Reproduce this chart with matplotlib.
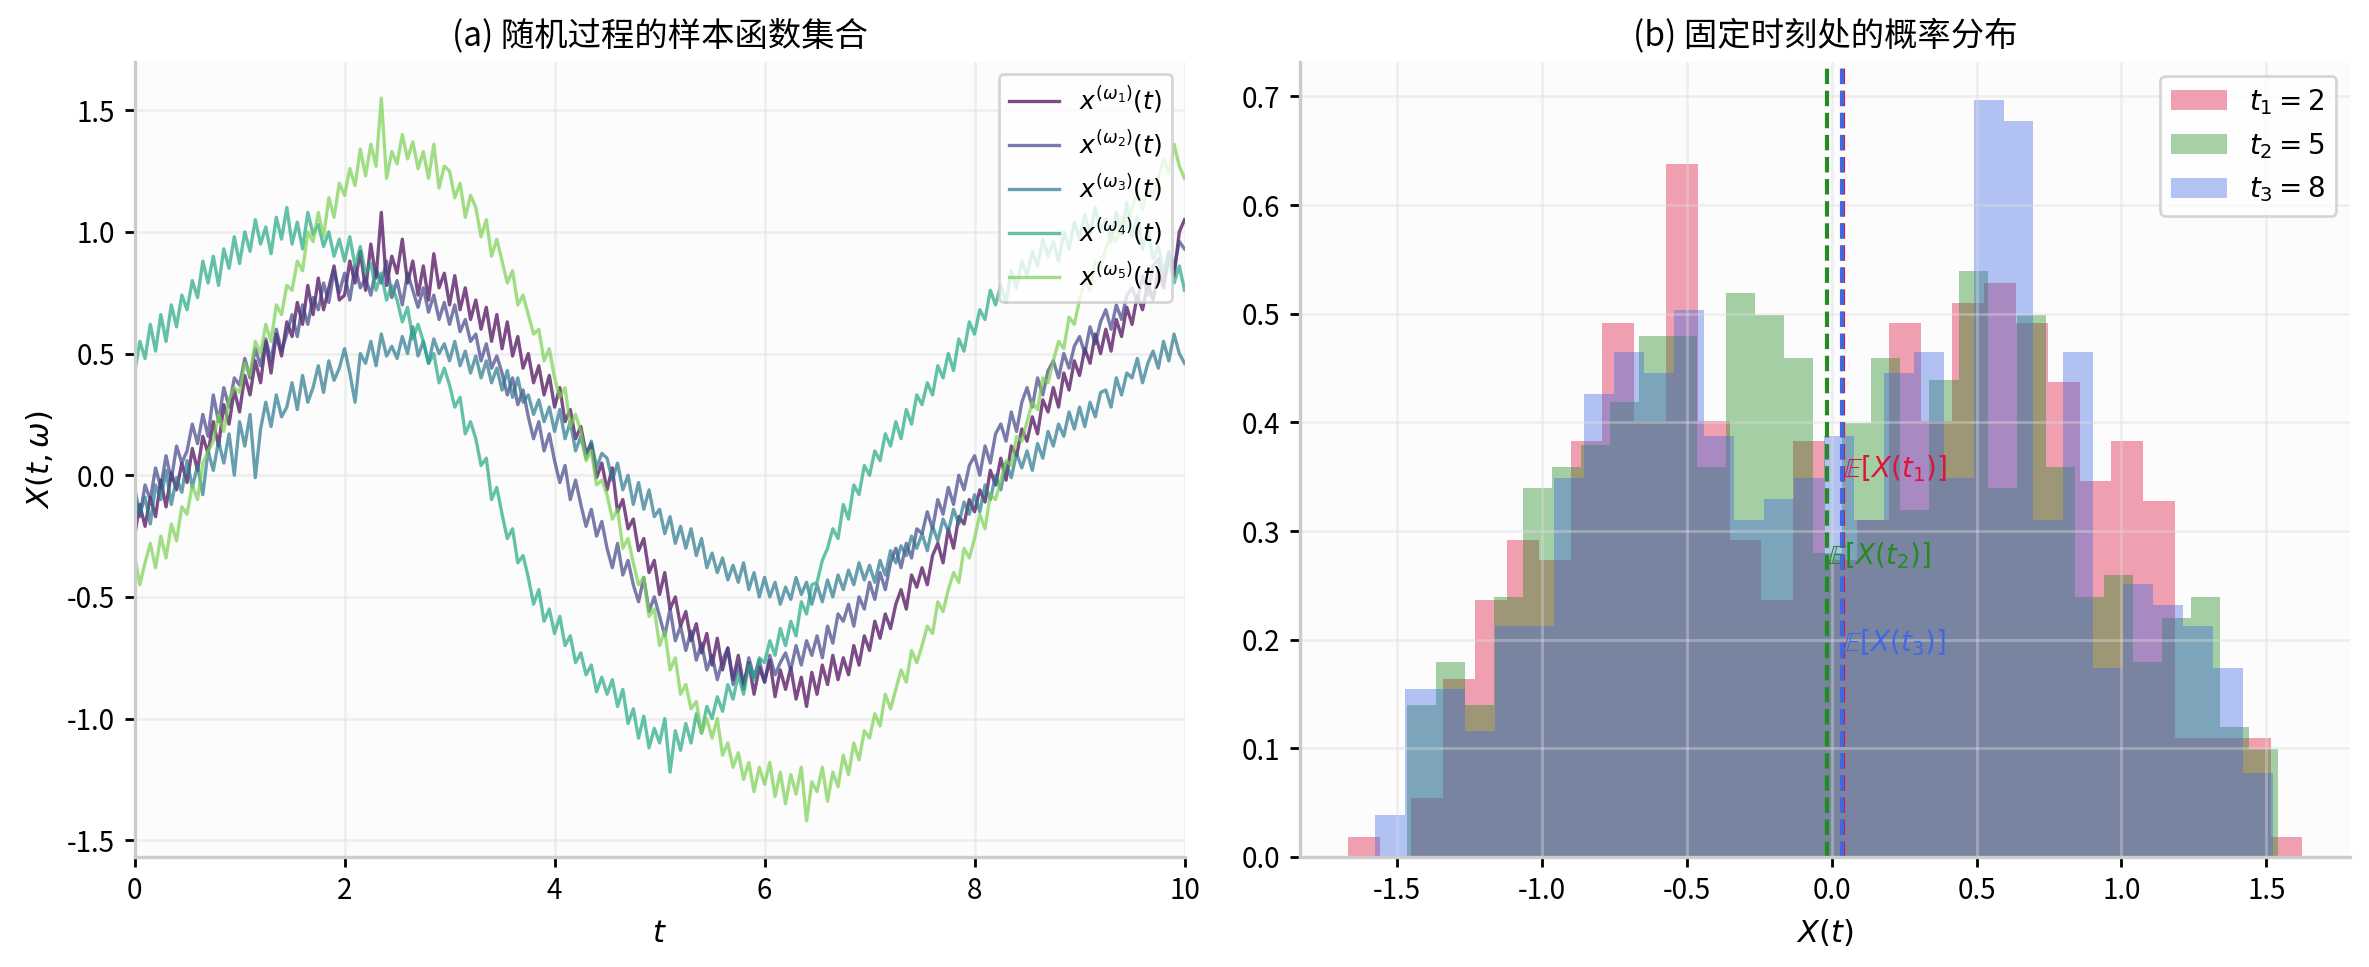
import numpy as np
import matplotlib
matplotlib.use('Agg')
import matplotlib.pyplot as plt

plt.rcParams['font.family'] = ['Noto Sans CJK SC', 'DejaVu Sans']
plt.rcParams['axes.unicode_minus'] = False
plt.rcParams['mathtext.fontset'] = 'dejavusans'
plt.rcParams['font.size'] = 10

path_labels = [r'$x^{(\omega_1)}(t)$', r'$x^{(\omega_2)}(t)$', r'$x^{(\omega_3)}(t)$',
               r'$x^{(\omega_4)}(t)$', r'$x^{(\omega_5)}(t)$']

x_w1 = [-0.25, -0.12, -0.21, -0.09, -0.17, -0.02, -0.13, 0.01, -0.06, 0.05,
        -0.03, 0.11, 0.02, 0.16, 0.09, 0.22, 0.12, 0.29, 0.21, 0.35,
        0.26, 0.41, 0.33, 0.47, 0.38, 0.55, 0.42, 0.58, 0.49, 0.63,
        0.57, 0.71, 0.62, 0.78, 0.66, 0.81, 0.68, 0.77, 0.86, 0.72,
        0.74, 0.88, 0.79, 0.92, 0.76, 0.95, 0.81, 1.08, 0.78, 0.90,
        0.83, 0.97, 0.79, 0.88, 0.74, 0.86, 0.72, 0.91, 0.77, 0.83,
        0.70, 0.82, 0.68, 0.77, 0.64, 0.72, 0.60, 0.69, 0.55, 0.66,
        0.52, 0.63, 0.49, 0.57, 0.44, 0.50, 0.38, 0.45, 0.33, 0.41,
        0.28, 0.36, 0.22, 0.27, 0.15, 0.20, 0.09, 0.13, -0.01, 0.05,
        -0.06, 0.03, -0.15, -0.10, -0.22, -0.18, -0.31, -0.26, -0.40, -0.35,
        -0.49, -0.40, -0.55, -0.50, -0.62, -0.56, -0.68, -0.61, -0.73, -0.65,
        -0.78, -0.67, -0.80, -0.71, -0.84, -0.74, -0.86, -0.77, -0.90, -0.79,
        -0.85, -0.76, -0.91, -0.80, -0.88, -0.79, -0.92, -0.83, -0.95, -0.81,
        -0.90, -0.78, -0.86, -0.74, -0.84, -0.75, -0.82, -0.70, -0.78, -0.66,
        -0.72, -0.60, -0.67, -0.57, -0.63, -0.53, -0.47, -0.55, -0.41, -0.46,
        -0.38, -0.45, -0.33, -0.28, -0.36, -0.22, -0.30, -0.17, -0.20, -0.10,
        -0.15, -0.06, -0.11, 0.02, -0.04, 0.07, -0.02, 0.12, 0.08, 0.19,
        0.14, 0.24, 0.17, 0.31, 0.26, 0.36, 0.28, 0.42, 0.35, 0.47,
        0.41, 0.52, 0.46, 0.58, 0.50, 0.60, 0.51, 0.64, 0.57, 0.69,
        0.62, 0.74, 0.68, 0.79, 0.72, 0.84, 0.77, 0.90, 0.82, 1.00,
        1.05]

x_w2 = [-0.08, -0.17, -0.04, -0.10, 0.03, -0.05, 0.08, -0.02, 0.12, 0.05,
        0.10, 0.21, 0.13, 0.25, 0.16, 0.33, 0.22, 0.36, 0.28, 0.40,
        0.37, 0.48, 0.40, 0.52, 0.45, 0.56, 0.47, 0.60, 0.51, 0.58,
        0.66, 0.57, 0.70, 0.62, 0.73, 0.68, 0.79, 0.71, 0.84, 0.75,
        0.83, 0.72, 0.86, 0.77, 0.81, 0.74, 0.85, 0.79, 0.88, 0.73,
        0.80, 0.70, 0.83, 0.76, 0.69, 0.77, 0.67, 0.74, 0.64, 0.71,
        0.62, 0.70, 0.59, 0.64, 0.55, 0.58, 0.47, 0.54, 0.44, 0.49,
        0.42, 0.33, 0.40, 0.29, 0.35, 0.24, 0.15, 0.22, 0.10, 0.17,
        0.06, -0.03, 0.04, -0.10, -0.02, -0.12, -0.21, -0.14, -0.25, -0.19,
        -0.30, -0.38, -0.28, -0.41, -0.35, -0.45, -0.52, -0.42, -0.56, -0.50,
        -0.58, -0.66, -0.55, -0.68, -0.62, -0.72, -0.64, -0.76, -0.69, -0.80,
        -0.74, -0.84, -0.76, -0.71, -0.86, -0.78, -0.88, -0.75, -0.83, -0.76,
        -0.85, -0.74, -0.82, -0.77, -0.73, -0.80, -0.70, -0.78, -0.68, -0.74,
        -0.66, -0.75, -0.62, -0.69, -0.57, -0.60, -0.53, -0.62, -0.50, -0.55,
        -0.44, -0.51, -0.40, -0.47, -0.36, -0.30, -0.38, -0.28, -0.34, -0.22,
        -0.24, -0.15, -0.22, -0.10, -0.16, -0.05, -0.12, 0.00, -0.06, 0.04,
        0.08, 0.00, 0.12, 0.05, 0.17, 0.21, 0.14, 0.26, 0.18, 0.30,
        0.36, 0.28, 0.40, 0.33, 0.43, 0.47, 0.40, 0.50, 0.44, 0.53,
        0.57, 0.50, 0.61, 0.54, 0.63, 0.68, 0.60, 0.70, 0.64, 0.74,
        0.77, 0.71, 0.82, 0.74, 0.86, 0.89, 0.80, 0.92, 0.85, 0.96,
        0.93]

x_w3 = [-0.05, -0.16, -0.09, -0.20, -0.04, -0.10, 0.02, -0.12, -0.01, -0.07,
        0.06, -0.05, 0.04, -0.08, 0.10, 0.02, 0.14, 0.05, 0.17, 0.00,
        0.22, 0.12, 0.25, -0.01, 0.19, 0.30, 0.20, 0.33, 0.24, 0.28,
        0.38, 0.27, 0.41, 0.30, 0.36, 0.45, 0.34, 0.47, 0.39, 0.44,
        0.52, 0.42, 0.30, 0.50, 0.46, 0.55, 0.45, 0.58, 0.49, 0.53,
        0.48, 0.57, 0.50, 0.61, 0.49, 0.55, 0.46, 0.56, 0.50, 0.54,
        0.47, 0.55, 0.45, 0.51, 0.42, 0.49, 0.40, 0.47, 0.38, 0.44,
        0.35, 0.43, 0.32, 0.40, 0.30, 0.33, 0.25, 0.31, 0.22, 0.28,
        0.18, 0.27, 0.15, 0.22, 0.10, 0.16, 0.07, 0.14, 0.03, 0.09,
        0.07, -0.02, 0.05, -0.06, 0.00, -0.12, -0.03, -0.14, -0.06, -0.17,
        -0.14, -0.24, -0.17, -0.28, -0.21, -0.30, -0.22, -0.33, -0.26, -0.38,
        -0.32, -0.40, -0.34, -0.43, -0.37, -0.44, -0.36, -0.47, -0.40, -0.50,
        -0.42, -0.50, -0.44, -0.53, -0.46, -0.51, -0.42, -0.49, -0.44, -0.53,
        -0.45, -0.52, -0.43, -0.50, -0.41, -0.47, -0.39, -0.45, -0.36, -0.43,
        -0.37, -0.44, -0.35, -0.41, -0.31, -0.36, -0.29, -0.33, -0.25, -0.30,
        -0.24, -0.31, -0.21, -0.27, -0.18, -0.23, -0.14, -0.20, -0.11, -0.16,
        -0.08, -0.15, -0.04, -0.10, 0.00, -0.06, 0.05, -0.01, 0.09, 0.03,
        0.10, 0.02, 0.13, 0.07, 0.18, 0.12, 0.21, 0.16, 0.26, 0.19,
        0.28, 0.20, 0.30, 0.24, 0.34, 0.35, 0.28, 0.40, 0.33, 0.42,
        0.40, 0.48, 0.38, 0.46, 0.51, 0.44, 0.55, 0.47, 0.58, 0.50,
        0.46]

x_w4 = [0.42, 0.55, 0.48, 0.62, 0.51, 0.66, 0.55, 0.70, 0.61, 0.74,
        0.68, 0.80, 0.73, 0.88, 0.79, 0.90, 0.78, 0.93, 0.85, 0.98,
        0.87, 1.00, 0.92, 1.05, 0.95, 1.02, 0.91, 1.06, 0.97, 1.10,
        0.95, 1.04, 0.93, 1.08, 0.99, 1.03, 0.94, 1.00, 0.90, 0.97,
        0.88, 0.98, 0.86, 0.94, 0.83, 0.87, 0.76, 0.83, 0.72, 0.78,
        0.72, 0.63, 0.69, 0.56, 0.62, 0.55, 0.46, 0.50, 0.38, 0.44,
        0.37, 0.28, 0.32, 0.17, 0.22, 0.15, 0.04, 0.07, -0.10, -0.05,
        -0.16, -0.26, -0.22, -0.36, -0.33, -0.42, -0.53, -0.47, -0.60, -0.55,
        -0.65, -0.58, -0.70, -0.66, -0.77, -0.73, -0.82, -0.78, -0.89, -0.83,
        -0.90, -0.84, -0.95, -0.88, -1.02, -0.96, -1.08, -0.99, -1.12, -1.04,
        -1.10, -1.00, -1.22, -1.05, -1.13, -1.02, -1.10, -0.98, -1.06, -0.95,
        -1.00, -0.91, -0.97, -0.86, -0.92, -0.82, -0.90, -0.78, -0.84, -0.75,
        -0.77, -0.68, -0.74, -0.63, -0.70, -0.60, -0.66, -0.52, -0.57, -0.45,
        -0.44, -0.35, -0.30, -0.22, -0.26, -0.12, -0.18, -0.04, -0.08, 0.04,
        0.00, 0.10, 0.06, 0.17, 0.12, 0.22, 0.15, 0.27, 0.21, 0.33,
        0.29, 0.38, 0.33, 0.45, 0.40, 0.50, 0.43, 0.56, 0.51, 0.63,
        0.58, 0.68, 0.64, 0.76, 0.70, 0.78, 0.71, 0.84, 0.77, 0.88,
        0.82, 0.92, 0.86, 0.97, 0.90, 0.96, 0.88, 1.00, 0.93, 1.04,
        0.97, 1.07, 0.99, 1.10, 1.01, 1.05, 0.96, 1.08, 0.99, 1.12,
        0.98, 1.06, 0.93, 1.00, 0.89, 0.94, 0.84, 0.90, 0.79, 0.86,
        0.76]

x_w5 = [-0.33, -0.45, -0.36, -0.28, -0.38, -0.25, -0.34, -0.20, -0.27, -0.13,
        -0.16, -0.04, -0.10, 0.05, 0.10, 0.14, 0.25, 0.18, 0.31, 0.36,
        0.34, 0.46, 0.41, 0.55, 0.50, 0.62, 0.55, 0.70, 0.66, 0.78,
        0.76, 0.88, 0.84, 1.00, 0.96, 1.08, 0.98, 1.14, 1.06, 1.20,
        1.15, 1.26, 1.19, 1.34, 1.23, 1.36, 1.27, 1.55, 1.22, 1.33,
        1.28, 1.40, 1.30, 1.37, 1.26, 1.33, 1.22, 1.36, 1.18, 1.27,
        1.25, 1.14, 1.20, 1.06, 1.15, 1.10, 0.98, 1.05, 0.90, 0.97,
        0.88, 0.79, 0.84, 0.70, 0.74, 0.66, 0.58, 0.60, 0.47, 0.52,
        0.40, 0.32, 0.36, 0.20, 0.25, 0.18, 0.06, 0.10, -0.04, -0.02,
        -0.08, -0.18, -0.14, -0.30, -0.26, -0.36, -0.45, -0.42, -0.58, -0.55,
        -0.70, -0.64, -0.80, -0.75, -0.90, -0.86, -0.96, -0.93, -1.06, -1.00,
        -1.08, -1.00, -1.15, -1.10, -1.20, -1.14, -1.25, -1.18, -1.30, -1.20,
        -1.27, -1.18, -1.32, -1.22, -1.35, -1.23, -1.31, -1.20, -1.42, -1.26,
        -1.30, -1.20, -1.34, -1.22, -1.28, -1.15, -1.23, -1.10, -1.17, -1.05,
        -1.08, -0.98, -1.03, -0.90, -0.96, -0.88, -0.80, -0.85, -0.72, -0.77,
        -0.70, -0.62, -0.65, -0.52, -0.56, -0.47, -0.40, -0.44, -0.30, -0.34,
        -0.26, -0.16, -0.22, -0.08, -0.10, -0.02, 0.06, 0.04, 0.16, 0.14,
        0.22, 0.30, 0.27, 0.40, 0.38, 0.47, 0.55, 0.52, 0.65, 0.62,
        0.72, 0.80, 0.76, 0.88, 0.85, 0.93, 0.99, 0.96, 1.06, 1.02,
        1.10, 1.16, 1.09, 1.20, 1.14, 1.22, 1.30, 1.24, 1.36, 1.27,
        1.22]

paths = [x_w1, x_w2, x_w3, x_w4, x_w5]

# ---- panel (b): histogram counts, 500 samples, 30 bins per time ----
time_labels = [r'$t_1 = 2$', r'$t_2 = 5$', r'$t_3 = 8$']
mean_labels = [r'$\mathbb{E}[X(t_1)]$', r'$\mathbb{E}[X(t_2)]$', r'$\mathbb{E}[X(t_3)]$']

counts_t1 = [1, 0, 3, 9, 13, 16, 15, 21, 27, 22, 35, 22, 16, 13, 21,
             15, 17, 27, 22, 28, 29, 27, 24, 19, 21, 18, 6, 6, 6, 1]
counts_t2 = [7, 9, 7, 12, 17, 18, 19, 21, 24, 24, 18, 26, 25, 23, 14,
             20, 23, 16, 22, 27, 17, 25, 18, 12, 13, 9, 11, 12, 6, 5]
counts_t3 = [2, 8, 8, 6, 11, 11, 18, 22, 24, 23, 26, 20, 16, 17, 18,
             20, 16, 23, 24, 18, 36, 35, 16, 24, 9, 13, 12, 11, 9, 4]
range_t1 = (-1.669, 1.624)
range_t2 = (-1.4655, 1.540)
range_t3 = (-1.576, 1.523)

hist_counts = [counts_t1, counts_t2, counts_t3]
hist_ranges = [range_t1, range_t2, range_t3]
hist_colors = ['crimson', 'forestgreen', 'royalblue']
label_y = [0.357, 0.277, 0.197]


def style_axes(ax):
    ax.set_facecolor('#fcfcfc')
    ax.spines['top'].set_visible(False)
    ax.spines['right'].set_visible(False)
    for s in ['left', 'bottom']:
        ax.spines[s].set_color('#cccccc')
        ax.spines[s].set_linewidth(1.2)
    ax.grid(True, color='#dddddd', alpha=0.4, linewidth=1.0)
    ax.tick_params(length=3.5, width=1.0, labelsize=10)


fig, (ax1, ax2) = plt.subplots(1, 2, figsize=(2369 / 200, 967 / 200), dpi=200)
fig.subplots_adjust(left=0.0568, right=0.992, bottom=0.1138, top=0.936, wspace=0.11)

# (a)
colors = plt.cm.viridis(np.linspace(0, 0.8, len(paths)))
for vals, c, lab in zip(paths, colors, path_labels):
    t = np.linspace(0, 10, len(vals))
    ax1.plot(t, vals, color=c, lw=1.2, alpha=0.7, label=lab)
ax1.set_xlim(0, 10)
ax1.set_xlabel(r'$t$', fontsize=11)
ax1.set_ylabel(r'$X(t,\omega)$', fontsize=11)
ax1.set_title('(a) 随机过程的样本函数集合', fontsize=12)
ax1.legend(loc='upper right', fontsize=9, framealpha=0.8)
style_axes(ax1)

# (b)
means = []
for cnt, rng, c, lab in zip(hist_counts, hist_ranges, hist_colors, time_labels):
    edges = np.linspace(rng[0], rng[1], len(cnt) + 1)
    centers = 0.5 * (edges[:-1] + edges[1:])
    ax2.hist(centers, bins=edges, weights=cnt, density=True,
             color=c, alpha=0.4, label=lab)
    means.append(np.average(centers, weights=cnt))

for m, c, lab, y in zip(means, hist_colors, mean_labels, label_y):
    ax2.axvline(m, color=c, ls='--', lw=1.5)
    ax2.text(m, y, lab, color=c, fontsize=10, ha='left', va='center')

ax2.set_xlabel(r'$X(t)$', fontsize=11)
ax2.set_title('(b) 固定时刻处的概率分布', fontsize=12)
ax2.legend(loc='upper right', fontsize=10)
style_axes(ax2)

fig.savefig('out.png', dpi=200)
